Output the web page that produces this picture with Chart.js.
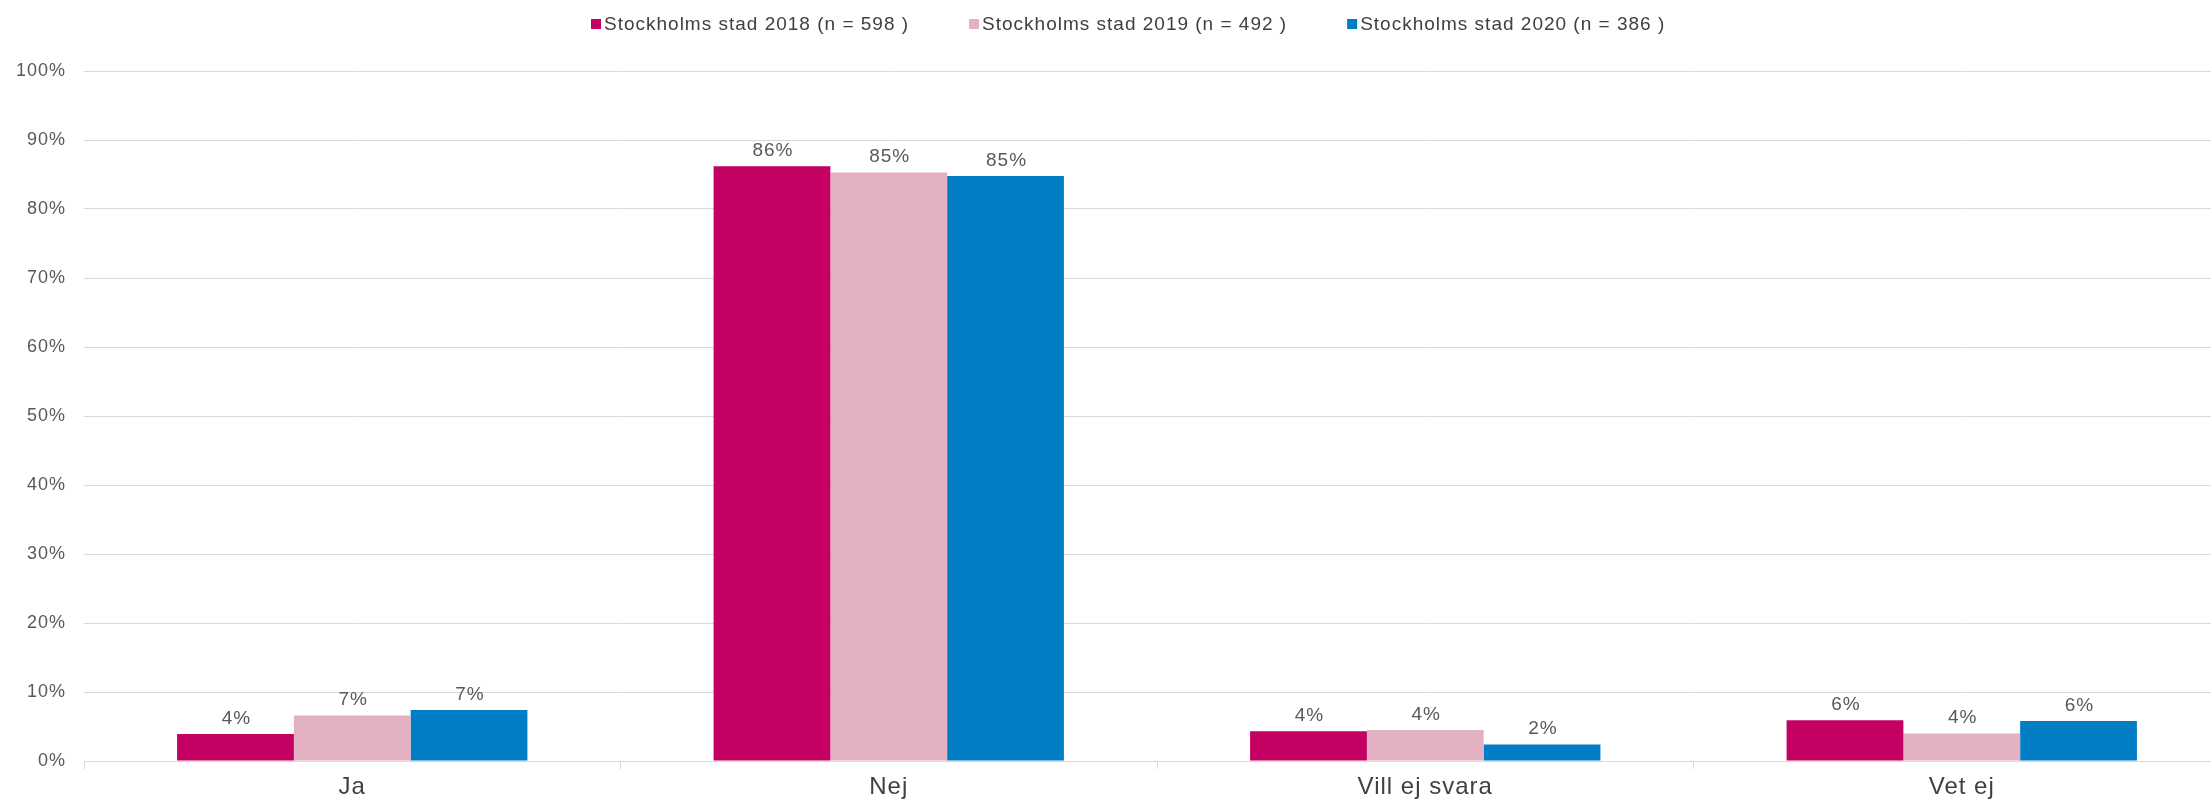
<!DOCTYPE html>
<html>
<head>
<meta charset="utf-8">
<script src="https://cdn.jsdelivr.net/npm/chart.js@4"></script>
<style>
  html, body { margin: 0; padding: 0; background: #fff; overflow: hidden; }
  #wrap { width: 2232px; height: 804px; }
</style>
</head>
<body>
<div id="wrap"><canvas id="myChart"></canvas></div>
<script>
const kategorier = ['Ja', 'Nej', 'Vill ej svara', 'Vet ej'];
const serieNamn = ['Stockholms stad 2018 (n = 598 )', 'Stockholms stad 2019 (n = 492 )', 'Stockholms stad 2020 (n = 386 )'];
const varden2018 = [3.9, 86.2, 4.3, 5.9];
const varden2019 = [6.6, 85.3, 4.48, 4.0];
const varden2020 = [7.4, 84.8, 2.4, 5.8];
const farger = ['#C40062', '#E3B1C2', '#007DC5'];

const FONT = "'Liberation Sans', Arial, sans-serif";

// lite bokstavsavstånd som i originalet
const spacing = {
  id: 'spacing',
  beforeUpdate(chart) { chart.ctx.letterSpacing = '1px'; },
  beforeDraw(chart) { chart.ctx.letterSpacing = '1px'; }
};

// procentetiketter ovanför staplarna
const etiketter = {
  id: 'etiketter',
  afterDatasetsDraw(chart) {
    const ctx = chart.ctx;
    ctx.save();
    ctx.letterSpacing = '1px';
    ctx.font = '19px ' + FONT;
    ctx.fillStyle = '#595959';
    ctx.textAlign = 'center';
    ctx.textBaseline = 'alphabetic';
    chart.data.datasets.forEach((ds, i) => {
      chart.getDatasetMeta(i).data.forEach((bar, j) => {
        ctx.fillText(Math.round(ds.data[j]) + '%', bar.x + 1, bar.y - 10);
      });
    });
    ctx.restore();
  }
};

// egen legend högst upp
const legend = {
  id: 'egenLegend',
  afterDraw(chart) {
    const ctx = chart.ctx;
    ctx.save();
    ctx.letterSpacing = '1px';
    ctx.font = '19px ' + FONT;
    ctx.textBaseline = 'middle';
    ctx.textAlign = 'left';
    const box = 10, gap = 3, mellan = 60;
    let x = 591;
    const y = 24;
    chart.data.datasets.forEach(ds => {
      const w = ctx.measureText(ds.label).width;
      ctx.fillStyle = ds.backgroundColor;
      ctx.fillRect(x, y - box / 2, box, box);
      ctx.fillStyle = '#404040';
      ctx.fillText(ds.label, x + box + gap, y + 1);
      x += box + gap + w + mellan;
    });
    ctx.restore();
  }
};

const ctx = document.querySelector('#myChart');
const chart = new Chart(ctx, {
  type: 'bar',
  data: {
    labels: kategorier,
    datasets: [
      { label: serieNamn[0], data: varden2018, backgroundColor: farger[0] },
      { label: serieNamn[1], data: varden2019, backgroundColor: farger[1] },
      { label: serieNamn[2], data: varden2020, backgroundColor: farger[2] }
    ]
  },
  options: {
    responsive: true,
    maintainAspectRatio: false,
    animation: false,
    categoryPercentage: 0.653,
    barPercentage: 1.0,
    layout: { autoPadding: false, padding: { top: 71, left: 17, right: 2, bottom: 0 } },
    plugins: {
      legend: { display: false },
      tooltip: { enabled: false }
    },
    scales: {
      x: {
        afterFit(scale) { scale.height = 43; },
        grid: {
          offset: true,
          drawOnChartArea: false,
          drawTicks: true,
          tickLength: 8,
          color: '#d9d9d9'
        },
        border: { color: '#d9d9d9' },
        ticks: {
          color: '#404040',
          padding: 4,
          font: { family: FONT, size: 24 }
        }
      },
      y: {
        afterFit(scale) { scale.width = 67; },
        min: 0,
        max: 100,
        grid: { color: '#d9d9d9', drawTicks: false },
        border: { display: false },
        ticks: {
          stepSize: 10,
          padding: 18,
          color: '#595959',
          font: { family: FONT, size: 18 },
          callback: v => v + '%'
        }
      }
    }
  },
  plugins: [spacing, etiketter, legend]
});
</script>
</body>
</html>
